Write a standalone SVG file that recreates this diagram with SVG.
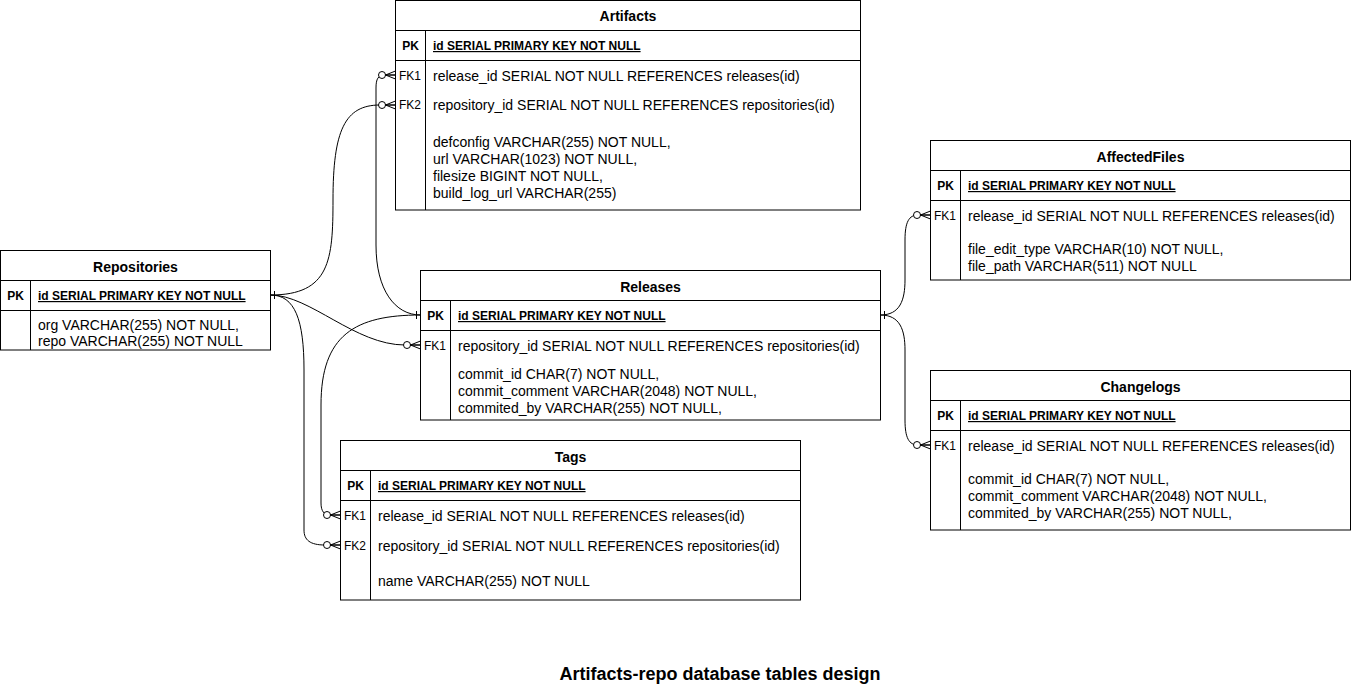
<svg xmlns="http://www.w3.org/2000/svg" width="1351" height="694" viewBox="0 0 1351 694">
<style>
.bg{fill:#fff}
.box{fill:#fff;stroke:#000;stroke-width:1}
.ln{fill:none;stroke:#000;stroke-width:1}
text{font-family:"Liberation Sans",Arial,Helvetica,sans-serif;fill:#000}
.t{font-size:14px}
.title{font-size:14px;font-weight:bold;text-anchor:middle}
.pk{font-size:12px;font-weight:bold;text-anchor:middle}
.fk{font-size:12px;text-anchor:middle}
.pkf{font-size:12px;font-weight:bold;text-decoration:underline}
.cap{font-size:18px;font-weight:bold;text-anchor:middle}
.edge{fill:none;stroke:#000;stroke-width:1}
</style>
<defs>
<marker id="one" markerUnits="userSpaceOnUse" markerWidth="10" markerHeight="12" viewBox="0 0 10 12" refX="0" refY="6" orient="auto">
<line x1="4" y1="2" x2="4" y2="10" stroke="#000" stroke-width="1"/>
</marker>
<marker id="zeroMany" markerUnits="userSpaceOnUse" markerWidth="20" markerHeight="12" viewBox="0 0 20 12" refX="18" refY="6" orient="auto">
<circle cx="4.5" cy="6" r="3.5" fill="#fff" stroke="#000" stroke-width="1"/>
<path d="M8,6 L18,2 M8,6 L18,6 M8,6 L18,10" fill="none" stroke="#000" stroke-width="1"/>
</marker>
</defs>
<rect class="bg" x="0" y="0" width="1351" height="694"/>

<g id="connectors">
<path class="edge" d="M270.5,295 C330,295 333,260 333,200 C333,130 345,105 380,105 L395.5,105" marker-start="url(#one)" marker-end="url(#zeroMany)"/>
<path class="edge" d="M420.5,315 C395,315 376,290 376,245 L376,88 C376,79 378,75 385,75 L395.5,75" marker-start="url(#one)" marker-end="url(#zeroMany)"/>
<path class="edge" d="M270.5,295 C310,295 355,345 405,345 L420.5,345" marker-start="url(#one)" marker-end="url(#zeroMany)"/>
<path class="edge" d="M420.5,315 C355,315 321,335 321,405 L321,503 C321,511 324,515 330,515 L340.5,515" marker-start="url(#one)" marker-end="url(#zeroMany)"/>
<path class="edge" d="M270.5,295 C295,295 304,320 304,370 L304,530 C304,540 310,545 325,545 L340.5,545" marker-start="url(#one)" marker-end="url(#zeroMany)"/>
<path class="edge" d="M880.5,315 C900,315 905,300 905,280 L905,240 C905,222 909,215 918,215 L930.5,215" marker-start="url(#one)" marker-end="url(#zeroMany)"/>
<path class="edge" d="M880.5,315 C900,315 905,330 905,350 L905,420 C905,438 909,445 918,445 L930.5,445" marker-start="url(#one)" marker-end="url(#zeroMany)"/>
</g>

<g id="artifacts">
<rect class="box" x="395.5" y="0.5" width="465" height="209.5"/>
<path class="ln" d="M395.5,30.5 H860.5 M395.5,60.5 H860.5 M425.5,30.5 V210"/>
<text class="title" x="628" y="21">Artifacts</text>
<text class="pk" x="410.5" y="50">PK</text>
<text class="pkf" x="433" y="50">id SERIAL PRIMARY KEY NOT NULL</text>
<text class="fk" x="410" y="80">FK1</text>
<text class="t" x="433" y="81">release_id SERIAL NOT NULL REFERENCES releases(id)</text>
<text class="fk" x="410" y="109">FK2</text>
<text class="t" x="433" y="110">repository_id SERIAL NOT NULL REFERENCES repositories(id)</text>
<text class="t" x="433" y="147">defconfig VARCHAR(255) NOT NULL,</text>
<text class="t" x="433" y="164">url VARCHAR(1023) NOT NULL,</text>
<text class="t" x="433" y="181">filesize BIGINT NOT NULL,</text>
<text class="t" x="433" y="198">build_log_url VARCHAR(255)</text>
</g>

<g id="repositories">
<rect class="box" x="0.5" y="250.5" width="270" height="99.5"/>
<path class="ln" d="M0.5,280.5 H270.5 M0.5,310.5 H270.5 M30.5,280.5 V350"/>
<text class="title" x="135.5" y="272">Repositories</text>
<text class="pk" x="15.5" y="300">PK</text>
<text class="pkf" x="38" y="300">id SERIAL PRIMARY KEY NOT NULL</text>
<text class="t" x="38" y="330">org VARCHAR(255) NOT NULL,</text>
<text class="t" x="38" y="346">repo VARCHAR(255) NOT NULL</text>
</g>

<g id="releases">
<rect class="box" x="420.5" y="270.5" width="460" height="149.5"/>
<path class="ln" d="M420.5,300.5 H880.5 M420.5,330.5 H880.5 M450.5,300.5 V420"/>
<text class="title" x="650.5" y="292">Releases</text>
<text class="pk" x="435.5" y="320">PK</text>
<text class="pkf" x="458" y="320">id SERIAL PRIMARY KEY NOT NULL</text>
<text class="fk" x="435" y="350">FK1</text>
<text class="t" x="458" y="351">repository_id SERIAL NOT NULL REFERENCES repositories(id)</text>
<text class="t" x="458" y="379">commit_id CHAR(7) NOT NULL,</text>
<text class="t" x="458" y="396">commit_comment VARCHAR(2048) NOT NULL,</text>
<text class="t" x="458" y="413">commited_by VARCHAR(255) NOT NULL,</text>
</g>

<g id="tags">
<rect class="box" x="340.5" y="440.5" width="460" height="159.5"/>
<path class="ln" d="M340.5,470.5 H800.5 M340.5,500.5 H800.5 M370.5,470.5 V600"/>
<text class="title" x="570.5" y="462">Tags</text>
<text class="pk" x="355.5" y="490">PK</text>
<text class="pkf" x="378" y="490">id SERIAL PRIMARY KEY NOT NULL</text>
<text class="fk" x="355" y="520">FK1</text>
<text class="t" x="378" y="521">release_id SERIAL NOT NULL REFERENCES releases(id)</text>
<text class="fk" x="355" y="550">FK2</text>
<text class="t" x="378" y="551">repository_id SERIAL NOT NULL REFERENCES repositories(id)</text>
<text class="t" x="378" y="586">name VARCHAR(255) NOT NULL</text>
</g>

<g id="affectedfiles">
<rect class="box" x="930.5" y="140.5" width="420" height="139.5"/>
<path class="ln" d="M930.5,170.5 H1350.5 M930.5,200.5 H1350.5 M960.5,170.5 V280"/>
<text class="title" x="1140.5" y="162">AffectedFiles</text>
<text class="pk" x="945.5" y="190">PK</text>
<text class="pkf" x="968" y="190">id SERIAL PRIMARY KEY NOT NULL</text>
<text class="fk" x="945" y="220">FK1</text>
<text class="t" x="968" y="221">release_id SERIAL NOT NULL REFERENCES releases(id)</text>
<text class="t" x="968" y="254">file_edit_type VARCHAR(10) NOT NULL,</text>
<text class="t" x="968" y="271">file_path VARCHAR(511) NOT NULL</text>
</g>

<g id="changelogs">
<rect class="box" x="930.5" y="370.5" width="420" height="159.5"/>
<path class="ln" d="M930.5,400.5 H1350.5 M930.5,430.5 H1350.5 M960.5,400.5 V530"/>
<text class="title" x="1140.5" y="392">Changelogs</text>
<text class="pk" x="945.5" y="420">PK</text>
<text class="pkf" x="968" y="420">id SERIAL PRIMARY KEY NOT NULL</text>
<text class="fk" x="945" y="450">FK1</text>
<text class="t" x="968" y="451">release_id SERIAL NOT NULL REFERENCES releases(id)</text>
<text class="t" x="968" y="484">commit_id CHAR(7) NOT NULL,</text>
<text class="t" x="968" y="501">commit_comment VARCHAR(2048) NOT NULL,</text>
<text class="t" x="968" y="518">commited_by VARCHAR(255) NOT NULL,</text>
</g>

<g id="caption">
<text class="cap" x="720" y="680">Artifacts-repo database tables design</text>
</g>
</svg>
